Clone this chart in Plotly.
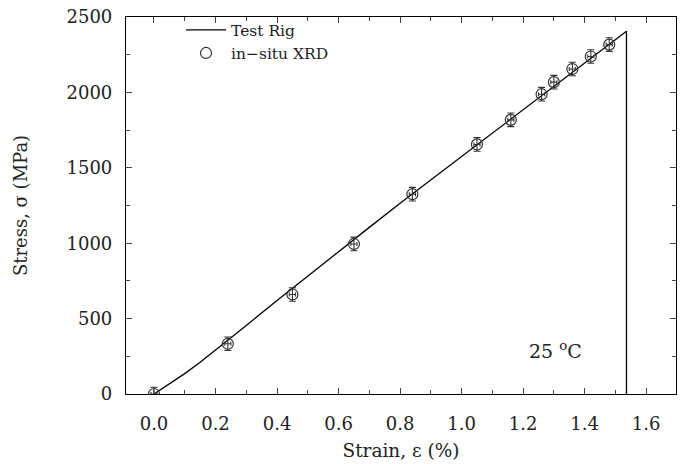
import plotly.graph_objects as go

# Test rig curve (strain %, stress MPa)
rig_strain = [0.0, 0.05, 0.10, 0.15, 0.20, 0.25, 0.30, 0.40, 0.50, 0.60, 0.70,
              0.80, 0.90, 1.00, 1.10, 1.20, 1.30, 1.40, 1.50, 1.536, 1.536]
rig_stress = [0, 65, 135, 210, 290, 372, 455, 620, 783, 945, 1105,
              1265, 1420, 1575, 1730, 1885, 2040, 2190, 2350, 2405, 0]

# in-situ XRD points
xrd_strain = [0.0, 0.24, 0.45, 0.65, 0.84, 1.05, 1.16, 1.26, 1.30, 1.36, 1.42, 1.48]
xrd_stress = [0, 333, 660, 995, 1325, 1655, 1818, 1988, 2068, 2155, 2238, 2317]
xrd_err_y = [45] * len(xrd_strain)
xrd_err_x = [0.01] * len(xrd_strain)

x_ticks = [0.0, 0.2, 0.4, 0.6, 0.8, 1.0, 1.2, 1.4, 1.6]
y_ticks = [0, 500, 1000, 1500, 2000, 2500]

FONT = "DejaVu Serif"

fig = go.Figure()
fig.add_trace(go.Scatter(
    x=rig_strain, y=rig_stress, mode="lines", name="Test Rig",
    line=dict(color="black", width=1.3),
))
fig.add_trace(go.Scatter(
    x=xrd_strain, y=xrd_stress, mode="markers", name="in\u2212situ XRD",
    marker=dict(symbol="circle-open", size=11, color="#333333", line=dict(width=1.2)),
    error_y=dict(type="data", array=xrd_err_y, color="#333333", thickness=1.1, width=3.5),
    error_x=dict(type="data", array=xrd_err_x, color="#333333", thickness=1.1, width=2),
))

axis_common = dict(
    showline=True, linecolor="black", linewidth=1.2, mirror="allticks",
    ticks="inside", ticklen=6, tickwidth=1, tickcolor="#444",
    showgrid=False, zeroline=False,
    tickfont=dict(family=FONT, size=18, color="#222"),
)

fig.update_xaxes(
    range=[-0.091, 1.697], tickvals=x_ticks, ticktext=[f"{v:.1f}" for v in x_ticks],
    minor=dict(ticks="inside", ticklen=4, dtick=0.1, tick0=0, tickcolor="#444"),
    title=dict(text="Strain, \u03b5 (%)", font=dict(family=FONT, size=18.5, color="#222"), standoff=11),
    ticklabelstandoff=13,
    **axis_common,
)
fig.update_yaxes(
    range=[0, 2500], tickvals=y_ticks,
    minor=dict(ticks="inside", ticklen=4, dtick=250, tick0=0, tickcolor="#444"),
    title=dict(text="Stress, \u03c3 (MPa)", font=dict(family=FONT, size=18, color="#222"), standoff=34),
    ticklabelstandoff=9,
    **axis_common,
)

fig.add_annotation(
    x=1.305, y=290, xref="x", yref="y", text="25 <sup>o</sup>C", showarrow=False,
    font=dict(family=FONT, size=19, color="#222"),
)

fig.update_layout(
    width=683, height=464,
    margin=dict(l=126, r=6, t=13, b=69),
    plot_bgcolor="white", paper_bgcolor="white",
    showlegend=True,
    legend=dict(
        x=0.1, y=1.01, xanchor="left", yanchor="top",
        bgcolor="rgba(0,0,0,0)", font=dict(family=FONT, size=15.5, color="#222"),
        itemwidth=40, tracegroupgap=0,
    ),
)

fig.write_html("out.html", config={"displayModeBar": False},
               post_script="document.body.style.margin='0px';")
